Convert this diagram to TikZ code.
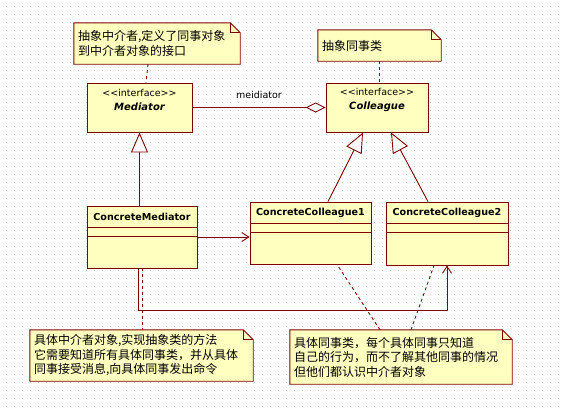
\documentclass[tikz,border=0pt]{standalone}
\usepackage{fontspec}
\setmainfont{DejaVu Sans}
\newfontfamily\cjk{Noto Sans CJK SC}
\usetikzlibrary{arrows.meta}

\definecolor{umlred}{RGB}{128,0,0}
\definecolor{umlfill}{RGB}{255,255,192}
\definecolor{griddot}{RGB}{195,195,195}

\tikzset{
  umlline/.style={draw=umlred, line width=0.9pt},
  classbox/.style={umlline, fill=umlfill, inner sep=0pt},
  notebox/.style={fill=umlfill, inner sep=4pt, align=left, font=\cjk\fontsize{12}{14.5}\selectfont},
  clsname/.style={font=\bfseries\fontsize{9.6}{11}\selectfont},
  ifname/.style={align=center, font=\fontsize{9.5}{14}\selectfont},
  notelink/.style={umlline, dash pattern=on 3pt off 3pt},
  inherit/.style={umlline, -{Triangle[open, fill=white, length=20pt, width=17pt]}},
  assoc/.style={umlline, -{Straight Barb[length=7pt, width=9pt]}},
  aggr/.style={umlline, {Diamond[open, fill=white, length=20pt, width=10pt]}-},
}

% note outline with folded corner
\newcommand{\notefold}[1]{%
  \fill[white] ([xshift=-10pt]#1.north east) -- (#1.north east) -- ([yshift=-10pt]#1.north east) -- cycle;
  \draw[umlline] (#1.south west) -- (#1.north west) -- ([xshift=-10pt]#1.north east)
    -- ([yshift=-10pt]#1.north east) -- (#1.south east) -- cycle;
  \draw[umlline] ([xshift=-10pt]#1.north east) -- ([xshift=-10pt,yshift=-10pt]#1.north east)
    -- ([yshift=-10pt]#1.north east);}
% attribute and operation compartments
\newcommand{\compartments}[1]{%
  \draw[umlline] ([yshift=-22pt]#1.north west) -- ([yshift=-22pt]#1.north east);
  \draw[umlline] ([yshift=-31pt]#1.north west) -- ([yshift=-31pt]#1.north east);}

\begin{document}
\begin{tikzpicture}[x=1pt, y=-1pt]
  \useasboundingbox (0,0) rectangle (562,410);
  % dotted grid
  \foreach \gx in {6,14,...,558}
    \foreach \gy in {6,14,...,406}
      \fill[griddot] (\gx-0.5,\gy-0.5) rectangle ++(1,1);

  % interfaces
  \node[classbox, minimum width=105pt, minimum height=49pt] (med) at (139.5,107.5) {};
  \node[ifname] (medname) at ([yshift=-17pt]med.north) {<{}<interface>{}>\\{\fontsize{10}{14}\selectfont\bfseries\itshape Mediator}};
  \node[classbox, minimum width=102pt, minimum height=49pt] (col) at (377,107.5) {};
  \node[ifname] (colname) at ([yshift=-17pt]col.north) {<{}<interface>{}>\\{\fontsize{10}{14}\selectfont\bfseries\itshape Colleague}};

  % concrete classes
  \node[classbox, minimum width=110pt, minimum height=62pt] (cm) at (142,237) {};
  \node[clsname] (cmname) at ([yshift=-11pt]cm.north) {ConcreteMediator};
  \compartments{cm}
  \node[classbox, minimum width=121pt, minimum height=62pt] (cc1) at (310.5,233) {};
  \node[clsname] (cc1name) at ([yshift=-11pt]cc1.north) {ConcreteColleague1};
  \compartments{cc1}
  \node[classbox, minimum width=122pt, minimum height=63pt] (cc2) at (447,233.5) {};
  \node[clsname] (cc2name) at ([yshift=-11pt]cc2.north) {ConcreteColleague2};
  \compartments{cc2}

  % notes
  \node[notebox, minimum width=166pt, minimum height=41pt, text width=158pt] (n1) at (157,43.5)
    {抽象中介者,定义了同事对象\\到中介者对象的接口};
  \notefold{n1}
  \node[notebox, minimum width=123pt, minimum height=31pt, text width=115pt] (n2) at (379.5,45.5)
    {抽象同事类};
  \notefold{n2}
  \node[notebox, minimum width=223pt, minimum height=51pt, text width=215pt] (n3) at (141.5,355.5)
    {具体中介者对象,实现抽象类的方法\\它需要知道所有具体同事类，并从具体\\同事接受消息,向具体同事发出命令};
  \notefold{n3}
  \node[notebox, minimum width=222pt, minimum height=54pt, text width=214pt] (n4) at (401,357)
    {具体同事类，每个具体同事只知道\\自己的行为，而不了解其他同事的情况\\但他们都认识中介者对象};
  \notefold{n4}

  % relations
  \draw[aggr] (col.west) -- node[above=5pt, font=\fontsize{9.5}{11}\selectfont] (rolelabel) {meidiator} (med.east);
  \draw[inherit] (cm.north -| med.south) -- (med.south);
  \draw[inherit] ([xshift=17.5pt]cc1.north) -- ([xshift=-14pt]col.south);
  \draw[inherit] ([xshift=-19pt]cc2.north) -- ([xshift=14pt]col.south);
  \draw[assoc] (cm.east) -- (cm.east -| cc1.west);
  \draw[assoc] ([xshift=-4pt]cm.south) -- ++(0,42) -| (cc2.south);

  % note links
  \draw[notelink] ([xshift=-9pt]n1.south) -- ([xshift=6.5pt]med.north);
  \draw[notelink] (n2.south) -- (n2.south |- col.north);
  \draw[notelink] (cm.south) -- (cm.south |- n3.north);
  \draw[notelink] ([xshift=-21pt]n4.north) -- ([xshift=26.5pt]cc1.south);
  \draw[notelink] ([xshift=10pt]n4.north) -- ([xshift=-13pt]cc2.south);
\end{tikzpicture}
\end{document}
